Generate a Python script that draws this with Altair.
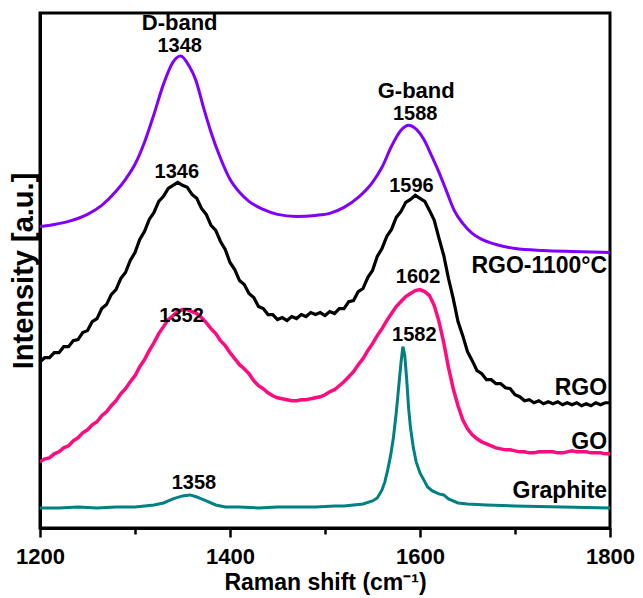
import altair as alt
import pandas as pd

# ---------------- data ----------------
# RGO-1100°C (purple, smooth)
p_x = [1200, 1215, 1230, 1250, 1265, 1280, 1290, 1300, 1310, 1320, 1330, 1340, 1348,
       1357, 1364, 1372, 1380, 1390, 1400, 1410, 1420, 1435, 1450, 1470, 1490, 1505,
       1520, 1535, 1550, 1560, 1570, 1580, 1588, 1596, 1604, 1612, 1620, 1628, 1636,
       1645, 1655, 1665, 1680, 1700, 1730, 1760, 1800]
p_y = [301, 303, 306, 313, 322, 336, 348, 363, 385, 413, 443, 465, 471,
       461, 447, 420, 395, 369, 348, 335, 326, 318, 313, 311, 312, 314,
       320, 330, 345, 360, 381, 397, 402, 398, 388, 372, 355, 336, 317,
       304, 294, 288, 283, 279, 277, 276, 275]

# RGO (black, noisy), every 5 cm-1 from 1200 to 1800
b_x = list(range(1200, 1801, 5))
b_y = [166, 170, 170, 175, 175, 181, 181, 187, 188, 195, 197, 206, 209, 219, 223, 233,
       238, 249, 255, 267, 275, 288, 296, 308, 315, 326, 331, 339, 342, 345, 342, 340,
       333, 329, 319, 313, 302, 297, 286, 278, 265, 258, 247, 243, 234, 230, 221, 219,
       213, 213, 208, 210, 207, 211, 209, 213, 211, 215, 213, 215, 212, 216, 214, 219,
       219, 226, 227, 236, 239, 250, 257, 271, 279, 291, 298, 310, 316, 325, 328, 332,
       329, 326, 317, 307, 289, 272, 249, 229, 206, 192, 176, 167, 157, 154, 148, 148,
       144, 144, 140, 139, 133, 131, 127, 128, 125, 127, 124, 126, 124, 126, 123, 125,
       123, 125, 122, 124, 122, 125, 123, 125, 125]

# GO (pink, slightly noisy), every 5 cm-1
g_x = list(range(1200, 1801, 5))
g_y = [66, 69, 70, 74, 76, 80, 82, 87, 90, 95, 98, 103, 106, 112, 116, 122,
       127, 134, 139, 146, 152, 161, 168, 177, 185, 194, 201, 208, 212, 216, 218, 218,
       216, 214, 210, 205, 199, 194, 187, 182, 175, 169, 163, 159, 154, 147, 142, 139,
       135, 132, 130, 129, 128, 127, 127, 128, 128, 129, 130, 131, 133, 136, 138, 142,
       146, 151, 156, 163, 169, 177, 184, 192, 199, 207, 214, 221, 226, 231, 234, 237,
       238, 236, 232, 222, 206, 185, 160, 139, 122, 108, 99, 93, 89, 86, 84, 82,
       80, 79, 78, 78, 77, 76, 76, 75, 75, 76, 76, 76, 76, 75, 75, 76,
       77, 76, 76, 76, 75, 75, 75, 74, 74]

# Graphite (teal)
t_x = [1200, 1220, 1240, 1260, 1280, 1300, 1310, 1320, 1330, 1340, 1350, 1358, 1365,
       1375, 1385, 1395, 1410, 1430, 1450, 1470, 1490, 1510, 1520, 1530, 1540, 1550,
       1555, 1560, 1563, 1566, 1569, 1572, 1575, 1578, 1580, 1582, 1584, 1586, 1588,
       1590, 1593, 1596, 1600, 1604, 1608, 1613, 1620, 1625, 1630, 1640, 1650, 1670,
       1700, 1750, 1800]
t_y = [20, 20, 21, 20, 21, 21, 22, 23, 25, 29, 32, 33, 31,
       27, 23, 21, 21, 20, 21, 21, 21, 22, 22, 23, 24, 27,
       30, 38, 46, 58, 72, 90, 115, 145, 165, 181, 172, 148, 120,
       100, 80, 66, 55, 48, 41, 37, 34, 33, 29, 25, 24, 23,
       22, 21, 20]

# annotations
ann_text = ["1348", "1588", "1346", "1596", "1352", "1602", "1582", "1358"]
ann_x = [1347, 1595, 1344, 1591, 1349, 1598, 1594, 1362]
ann_y = [481, 413, 355, 341, 212, 251, 193, 45]

band_text = ["D-band", "G-band"]
band_x = [1347, 1596]
band_y = [504, 436]

name_text = ["RGO-1100°C", "RGO", "GO", "Graphite"]
name_x = [1797, 1797, 1797, 1797]
name_y = [261, 140, 86, 37]

# ---------------- chart ----------------
FONT = "Liberation Sans"
xscale = alt.Scale(domain=[1200, 1800], nice=False, zero=False)
yscale = alt.Scale(domain=[0, 514], nice=False, zero=False)

x_axis = alt.Axis(
    values=list(range(1200, 1801, 100)),
    labelExpr="datum.value % 200 === 0 ? datum.label : ''",
    format="d",
    labelFlush=False,
    title="Raman shift (cm⁻¹)",
    titleFont=FONT, titleFontSize=23, titleFontWeight="bold", titleColor="black",
    labelFont=FONT, labelFontSize=22, labelFontWeight="bold", labelColor="black",
    labelPadding=9, titlePadding=4,
    tickSize={"condition": {"test": "datum.value % 200 === 0", "value": 9}, "value": 6},
    tickWidth=2.5, tickColor="black",
    domainColor="black", domainWidth=3, grid=False,
)
y_axis = alt.Axis(
    labels=False, ticks=False, grid=False,
    title="Intensity [a.u.]",
    titleFont=FONT, titleFontSize=29, titleFontWeight="bold", titleColor="black",
    titlePadding=2, domainColor="black", domainWidth=3,
)


def line(xs, ys, color, width, interp="linear"):
    df = pd.DataFrame({"x": xs, "y": ys})
    return alt.Chart(df).mark_line(color=color, strokeWidth=width, interpolate=interp,
                                   clip=True).encode(
        x=alt.X("x:Q", scale=xscale, axis=x_axis),
        y=alt.Y("y:Q", scale=yscale, axis=y_axis),
    )


def texts(labels, xs, ys, size, align="center"):
    df = pd.DataFrame({"t": labels, "x": xs, "y": ys})
    return alt.Chart(df).mark_text(font=FONT, fontSize=size, fontWeight="bold", color="black",
                                   align=align, baseline="middle").encode(
        x=alt.X("x:Q", scale=xscale, axis=x_axis),
        y=alt.Y("y:Q", scale=yscale, axis=y_axis),
        text="t:N",
    )


chart = alt.layer(
    line(t_x, t_y, "#008080", 3),
    line(g_x, g_y, "#ff0a7f", 3.5),
    line(b_x, b_y, "#000000", 3.2),
    line(p_x, p_y, "#7f00ff", 3, interp="monotone"),
    texts(ann_text, ann_x, ann_y, 20),
    texts(band_text, band_x, band_y, 22),
    texts(name_text, name_x, name_y, 23, align="right"),
).properties(
    width=570, height=515,
    padding={"left": 32, "top": 5, "right": 25, "bottom": 70},
    autosize=alt.AutoSizeParams(type="none"),
).configure_view(stroke="black", strokeWidth=3)

chart.save("out.html", embed_options={"renderer": "svg", "actions": False})
